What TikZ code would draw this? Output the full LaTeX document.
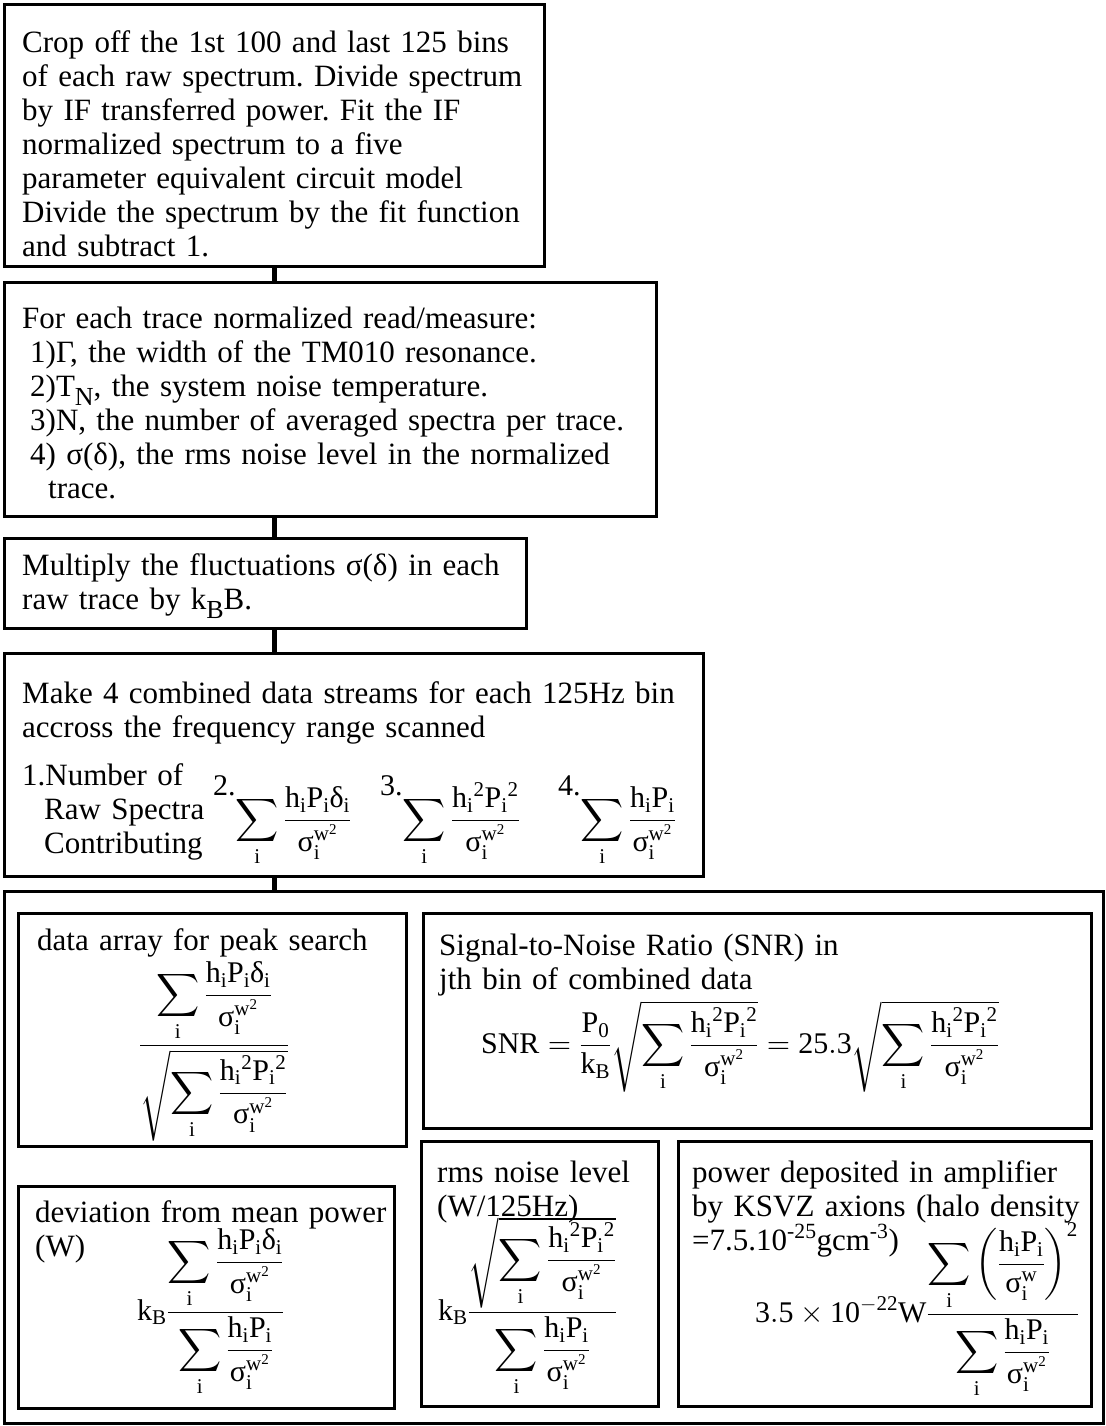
\documentclass[tikz,border=0pt]{standalone}
\usepackage{amsmath}
\usepackage{fontspec}
\setmainfont{Liberation Serif}
% scalable math fonts
\DeclareFontShape{OT1}{cmr}{m}{n}{<->cmr10}{}
\DeclareFontShape{OML}{cmm}{m}{it}{<->cmmi10}{}
\DeclareFontShape{OMS}{cmsy}{m}{n}{<->cmsy10}{}
\DeclareFontShape{OMX}{cmex}{m}{n}{<->cmex10}{}

\newcommand\hsub{\mathrm{h}_{\mathrm{i}}}
\newcommand\psub{\mathrm{P}_{\mathrm{i}}}
\newcommand\hsq{\mathrm{h}_{\mathrm{i}}{}^{\mathrm{2}}}
\newcommand\psq{\mathrm{P}_{\mathrm{i}}{}^{\mathrm{2}}}
\newcommand\dsub{\text{δ}_{\mathrm{i}}}
\newcommand\ssub[1]{\text{σ}_{\mathrm{i}}^{#1}}
\newcommand\wsq{\mathrm{w}^{\mathrm{2}}}
\newcommand\sumi{\displaystyle\sum_{\mathrm{i}}}
\newcommand\lowsub[1]{\raisebox{-0.3em}{\fontsize{26}{26}\selectfont #1}}

\begin{document}
\begin{tikzpicture}[x=1pt,y=-1pt,
  frame/.style={draw,line width=3pt,anchor=north west,inner sep=0pt},
  link/.style={line width=5pt},
  txt/.style={anchor=base west,inner sep=0pt,align=left,text width=#1,font=\fontsize{31}{34}\selectfont\frenchspacing},
  txt/.default=700pt,
  eq/.style={anchor=base,inner sep=0pt,font=\fontsize{30}{34}\selectfont}]

\useasboundingbox (0,0) rectangle (1105,1426);

% processing steps
\node[frame,minimum width=540pt,minimum height=262pt] (crop) at (3,3) {};
\node[txt] (croptext) at (22,53) {Crop off the 1st 100 and last 125 bins\\ of each raw spectrum. Divide spectrum\\ by IF transferred power. Fit the IF\\ normalized spectrum to a five\\ parameter equivalent circuit model\\ Divide the spectrum by the fit function\\ and subtract 1.};

\node[frame,minimum width=652pt,minimum height=234pt] (trace) at (3,281) {};
\node[txt] (tracetext) at (22,328) {For each trace normalized read/measure:\\
\hspace*{8pt}1)Γ, the width of the TM010 resonance.\\
\hspace*{8pt}2)T\lowsub{N}, the system noise temperature.\\
\hspace*{8pt}3)N, the number of averaged spectra per trace.\\
\hspace*{8pt}4) σ(δ), the rms noise level in the normalized\\
\hspace*{26pt}trace.};

\node[frame,minimum width=522pt,minimum height=90pt] (scale) at (3,537) {};
\node[txt] (scaletext) at (22,575) {Multiply the fluctuations σ(δ) in each\\ raw trace by k\lowsub{B}B.};

\node[frame,minimum width=699pt,minimum height=223pt] (combine) at (3,652) {};
\node[txt] (combinetext) at (22,703) {Make 4 combined data streams for each 125Hz bin\\ accross the frequency range scanned};
\node[txt] (stream1) at (22,785) {1.Number of\\\hspace*{22pt}Raw Spectra\\\hspace*{22pt}Contributing};
\node[eq,anchor=base west] (stream2) at (213,828) {\raisebox{1.1em}{2.}$\sumi\frac{\hsub\psub\dsub}{\ssub{\wsq}}$};
\node[eq,anchor=base west] (stream3) at (380,828) {\raisebox{1.1em}{3.}$\sumi\frac{\hsq\psq}{\ssub{\wsq}}$};
\node[eq,anchor=base west] (stream4) at (558,828) {\raisebox{1.1em}{4.}$\sumi\frac{\hsub\psub}{\ssub{\wsq}}$};

% results
\node[frame,minimum width=1099pt,minimum height=532pt] (results) at (3,890) {};

\node[frame,minimum width=388pt,minimum height=233pt] (peak) at (17,912) {};
\node[txt] (peaktext) at (37,950) {data array for peak search};
\node[eq] (peakeq) at (214,1053) {$\displaystyle\frac{\sumi\frac{\hsub\psub\dsub}{\ssub{\wsq}}}{\sqrt{\sumi\frac{\hsq\psq}{\ssub{\wsq}}}}$};

\node[frame,minimum width=668pt,minimum height=215pt] (snr) at (422,912) {};
\node[txt] (snrtext) at (439,955) {Signal-to-Noise Ratio (SNR) in\\ jth bin of combined data};
\node[eq] (snreq) at (740,1053) {$\displaystyle\mathrm{SNR}=\frac{\mathrm{P_0}}{\mathrm{k_B}}\sqrt{\sumi\frac{\hsq\psq}{\ssub{\wsq}}}=\mathrm{25.3}\sqrt{\sumi\frac{\hsq\psq}{\ssub{\wsq}}}$};

\node[frame,minimum width=376pt,minimum height=222pt] (dev) at (17,1185) {};
\node[txt] (devtext) at (35,1222) {deviation from mean power\\ (W)};
\node[eq,anchor=base west] (deveq) at (137,1320) {$\mathrm{k_B}\displaystyle\frac{\sumi\frac{\hsub\psub\dsub}{\ssub{\wsq}}}{\sumi\frac{\hsub\psub}{\ssub{\wsq}}}$};

\node[frame,minimum width=237pt,minimum height=265pt] (rms) at (420,1140) {};
\node[txt] (rmstext) at (437,1182) {rms noise level\\ (W/125Hz)};
\node[eq,anchor=base west] (rmseq) at (438,1320) {$\mathrm{k_B}\displaystyle\frac{\sqrt{\sumi\frac{\hsq\psq}{\ssub{\wsq}}}}{\sumi\frac{\hsub\psub}{\ssub{\wsq}}}$};

\node[frame,minimum width=413pt,minimum height=265pt] (ksvz) at (677,1140) {};
\node[txt] (ksvztext) at (692,1182) {power deposited in amplifier\\ by KSVZ axions (halo density\\ =7.5.10\textsuperscript{-25}gcm\textsuperscript{-3})};
\node[eq,anchor=base west] (ksvzeq) at (755,1322) {$\mathrm{3.5}\times\mathrm{10}^{-\mathrm{22}}\mathrm{W}\displaystyle\frac{\sumi\left(\frac{\hsub\psub}{\ssub{\mathrm{w}}}\right)^{\mathrm{2}}}{\sumi\frac{\hsub\psub}{\ssub{\wsq}}}$};

\draw[link] (crop.south) -- (crop.south |- trace.north);
\draw[link] (crop.south |- trace.south) -- (crop.south |- scale.north);
\draw[link] (crop.south |- scale.south) -- (crop.south |- combine.north);
\draw[link] (crop.south |- combine.south) -- (crop.south |- results.north);
\end{tikzpicture}
\end{document}
